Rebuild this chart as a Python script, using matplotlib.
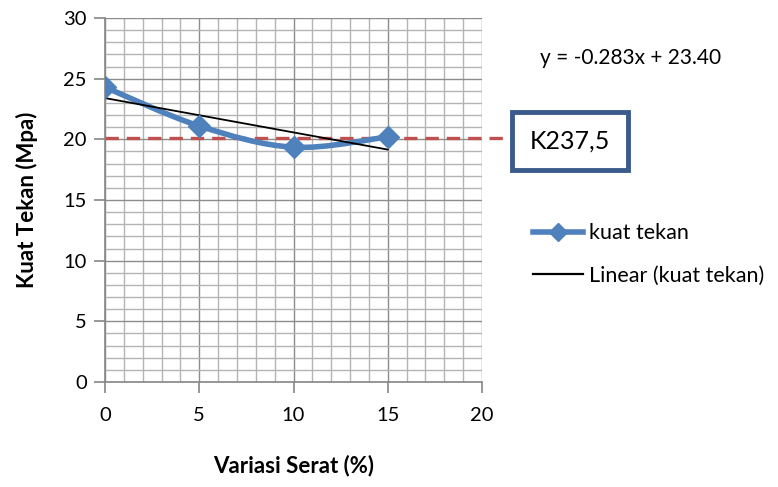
import matplotlib
matplotlib.use("Agg")
import matplotlib.pyplot as plt
from matplotlib.path import Path
from matplotlib.patches import PathPatch
from matplotlib.lines import Line2D
from matplotlib.ticker import MultipleLocator
import numpy as np

plt.rcParams['font.family'] = ['Lato', 'DejaVu Sans']

# data
variasi = [0, 5, 10, 15]
kuat_tekan = [24.3, 21.1, 19.35, 20.2]
slope, intercept = -0.283, 23.40
k_level = 20.1
x_ticks = [0, 5, 10, 15, 20]
y_ticks = [0, 5, 10, 15, 20, 25, 30]

blue = '#4F81BD'

fig = plt.figure(figsize=(7.78, 4.87), dpi=100)
ax = fig.add_axes([105 / 778, 1 - 382 / 487, (482 - 105) / 778, (382 - 18) / 487])
ax.set_xlim(0, 20)
ax.set_ylim(0, 30)

ax.xaxis.set_minor_locator(MultipleLocator(1))
ax.yaxis.set_minor_locator(MultipleLocator(1))
ax.set_xticks(x_ticks)
ax.set_yticks(y_ticks)
ax.grid(which='major', color='#8C8C8C', linewidth=1.0)
ax.grid(which='minor', color='#B4B4B4', linewidth=1.0)
ax.set_axisbelow(True)
for s in ['top', 'right']:
    ax.spines[s].set_visible(False)
for s in ['left', 'bottom']:
    ax.spines[s].set_color('#868686')
    ax.spines[s].set_linewidth(1.2)
ax.tick_params(which='major', length=8, color='#868686', width=1.2, labelsize=14.5, pad=5)
ax.tick_params(which='minor', length=0)
ax.tick_params(axis='x', pad=10)

# smoothed series (cubic bezier through points, like the spreadsheet)
pts = np.array(list(zip(variasi, kuat_tekan)))
verts = [tuple(pts[0])]
codes = [Path.MOVETO]
for i in range(len(pts) - 1):
    p0 = pts[i - 1] if i > 0 else pts[i]
    p1 = pts[i]
    p2 = pts[i + 1]
    p3 = pts[i + 2] if i + 2 < len(pts) else pts[i + 1]
    c1 = p1 + (p2 - p0) / 6
    c2 = p2 - (p3 - p1) / 6
    verts += [tuple(c1), tuple(c2), tuple(p2)]
    codes += [Path.CURVE4] * 3
ax.add_patch(PathPatch(Path(verts, codes), facecolor='none', edgecolor=blue, linewidth=4, zorder=3))
ax.plot(variasi, kuat_tekan, linestyle='none', marker='D', markersize=11, color=blue, zorder=4)

# linear trend
tx = np.array([variasi[0], variasi[-1]])
ax.plot(tx, slope * tx + intercept, color='black', linewidth=1.3, zorder=3)

# K237,5 level line
ax.plot([0, 21.3], [k_level, k_level], color='#C0504D', linestyle=(0, (4, 2.4)), linewidth=2.4,
        clip_on=False, zorder=2)

ax.set_xlabel('Variasi Serat (%)', fontsize=16, fontweight='bold', labelpad=22)
ax.set_ylabel('Kuat Tekan (Mpa)', fontsize=16, fontweight='bold', labelpad=18)

fig.text(540 / 778, 1 - 58 / 487, 'y = -0.283x + 23.40', fontsize=15, va='center', ha='left')
fig.text(570 / 778, 1 - 141 / 487, 'K237,5', fontsize=18, va='center', ha='center',
         bbox=dict(boxstyle='square,pad=0.7', facecolor='white', edgecolor='#3B5B8C', linewidth=3.5))

handles = [Line2D([], [], color=blue, linewidth=4, marker='D', markersize=9),
           Line2D([], [], color='black', linewidth=1.6)]
fig.legend(handles, ['kuat tekan', 'Linear (kuat tekan)'], loc='upper left',
           bbox_to_anchor=(514 / 778, 1 - 204 / 487), frameon=False, fontsize=15.5,
           handlelength=2.3, handletextpad=0.3, labelspacing=1.05)

fig.savefig('out.png', dpi=100)
